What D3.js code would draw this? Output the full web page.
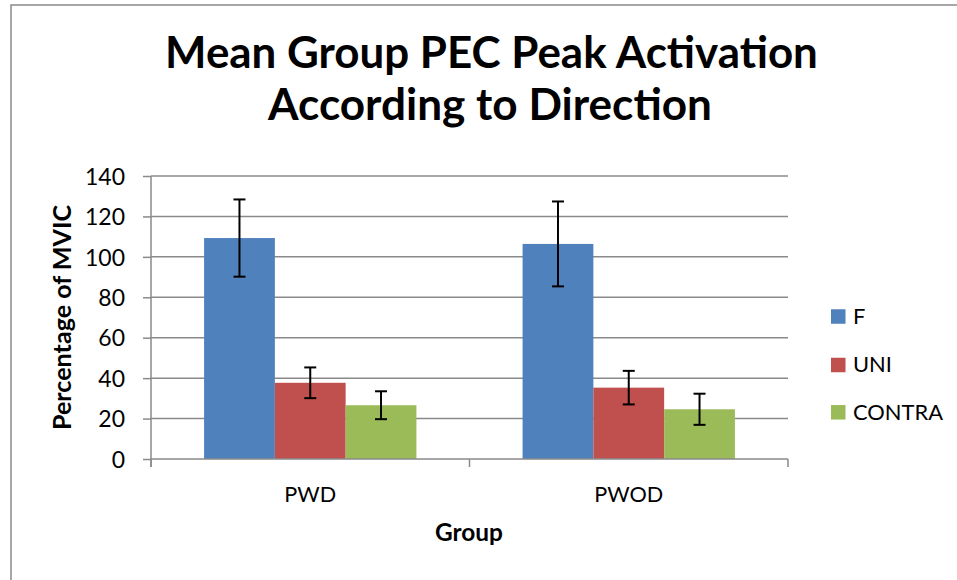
<!DOCTYPE html>
<html>
<head>
<meta charset="utf-8">
<script src="https://cdn.jsdelivr.net/npm/d3@7"></script>
<style>
  html, body { margin: 0; padding: 0; background: #fff; }
  svg { display: block; }
  text { font-family: Lato, "Open Sans", sans-serif; fill: #000; }
</style>
</head>
<body>
<svg id="chart" width="957" height="580"></svg>
<script>
// Chart data
const groups = ["PWD", "PWOD"];
const seriesNames = ["F", "UNI", "CONTRA"];
const seriesColors = ["#4F81BD", "#C0504D", "#9BBB59"];
const meanF = [109.3, 106.4];
const meanUNI = [37.7, 35.3];
const meanCONTRA = [26.6, 24.6];
const errF = [19.1, 21.0];
const errUNI = [7.6, 8.3];
const errCONTRA = [6.9, 7.7];
const yTicks = [0, 20, 40, 60, 80, 100, 120, 140];
const titleLines = ["Mean Group PEC Peak Activation", "According to Direction"];
const yTitle = "Percentage of MVIC";
const xTitle = "Group";

const means = [meanF, meanUNI, meanCONTRA];
const errs = [errF, errUNI, errCONTRA];
const rows = [];
groups.forEach((g, gi) => {
  seriesNames.forEach((s, si) => {
    rows.push({ group: g, series: s, si, value: means[si][gi], err: errs[si][gi] });
  });
});

const svg = d3.select("#chart");
const W = 957, H = 580;
const plot = { left: 151, right: 788, top: 176, bottom: 459 };
const gridColor = "#8a8a8a";

svg.append("rect").attr("width", W).attr("height", H).attr("fill", "#fff");

// outer chart frame (only left and top edges fall inside the view)
svg.append("rect")
  .attr("x", 11).attr("y", 5).attr("width", W + 20).attr("height", H + 20)
  .attr("fill", "none").attr("stroke", gridColor).attr("stroke-width", 1.5);

// scale a text's font size so that its rendered width equals a target width
function fitWidth(sel, target, base) {
  sel.style("font-size", base + "px");
  const w = sel.node().getComputedTextLength();
  const size = base * target / w;
  sel.style("font-size", size + "px");
  return size;
}

const x0 = d3.scaleBand().domain(groups).range([plot.left, plot.right]).padding(0);
const x1 = d3.scaleBand().domain(seriesNames).range([0, x0.bandwidth()])
  .paddingInner(0).paddingOuter(0.75);
const y = d3.scaleLinear().domain([0, 140]).range([plot.bottom, plot.top]);

// horizontal gridlines
svg.append("g").selectAll("line").data(yTicks.filter(d => d > 0)).join("line")
  .attr("x1", plot.left).attr("x2", plot.right)
  .attr("y1", d => y(d)).attr("y2", d => y(d))
  .attr("stroke", gridColor).attr("stroke-width", 1.5);

// bars
svg.append("g").selectAll("rect").data(rows).join("rect")
  .attr("x", d => x0(d.group) + x1(d.series))
  .attr("y", d => y(d.value))
  .attr("width", x1.bandwidth())
  .attr("height", d => y(0) - y(d.value))
  .attr("fill", d => seriesColors[d.si]);

// error bars
const cap = 6;
const eb = svg.append("g").attr("stroke", "#000").attr("stroke-width", 2);
rows.forEach(d => {
  const cx = x0(d.group) + x1(d.series) + x1.bandwidth() / 2;
  const yt = y(d.value + d.err), yb = y(d.value - d.err);
  eb.append("line").attr("x1", cx).attr("x2", cx).attr("y1", yt).attr("y2", yb);
  eb.append("line").attr("x1", cx - cap).attr("x2", cx + cap).attr("y1", yt).attr("y2", yt);
  eb.append("line").attr("x1", cx - cap).attr("x2", cx + cap).attr("y1", yb).attr("y2", yb);
});

// y axis
const yAxis = svg.append("g").attr("transform", `translate(${plot.left},0)`)
  .call(d3.axisLeft(y).tickValues(yTicks).tickSize(8).tickSizeOuter(0).tickPadding(18));
yAxis.select(".domain").remove();
yAxis.selectAll(".tick line").attr("stroke", gridColor).attr("stroke-width", 1.5);
yAxis.append("line").attr("x1", 0).attr("x2", 0).attr("y1", plot.top).attr("y2", plot.bottom + 8)
  .attr("stroke", gridColor).attr("stroke-width", 1.5);
const tickTexts = yAxis.selectAll(".tick text").attr("fill", "#000").style("font-family", "Lato");
const tickSize = fitWidth(yAxis.selectAll(".tick text").filter(d => d === 140), 40, 20);
tickTexts.style("font-size", tickSize + "px").attr("x", -26).attr("dy", "0.36em");

// x axis
const xAxis = svg.append("g").attr("transform", `translate(0,${plot.bottom})`);
xAxis.append("line").attr("x1", plot.left).attr("x2", plot.right).attr("y1", 0).attr("y2", 0)
  .attr("stroke", gridColor).attr("stroke-width", 1.5);
const boundaries = groups.map(g => x0(g)).concat([plot.right]);
xAxis.selectAll("line.tk").data(boundaries).join("line").attr("class", "tk")
  .attr("x1", d => d).attr("x2", d => d).attr("y1", 0).attr("y2", 8)
  .attr("stroke", gridColor).attr("stroke-width", 1.5);
const catLabels = xAxis.selectAll("text.cat").data(groups).join("text").attr("class", "cat")
  .attr("x", d => x0(d) + x0.bandwidth() / 2).attr("y", 43)
  .attr("text-anchor", "middle").text(d => d);
const catSize = fitWidth(catLabels.filter(d => d === "PWOD"), 69, 20);
catLabels.style("font-size", catSize + "px");

// titles
const t1 = svg.append("text").attr("x", 491.5).attr("y", 68).attr("text-anchor", "middle")
  .style("font-weight", "bold").text(titleLines[0]);
fitWidth(t1, 653, 40);
const t2 = svg.append("text").attr("x", 490).attr("y", 120).attr("text-anchor", "middle")
  .style("font-weight", "bold").text(titleLines[1]);
fitWidth(t2, 444, 40);

const xt = svg.append("text").attr("x", 469).attr("y", 541).attr("text-anchor", "middle")
  .style("font-weight", "bold").text(xTitle);
fitWidth(xt, 68, 20);

const yt = svg.append("text").attr("transform", "translate(71,317.5) rotate(-90)")
  .attr("text-anchor", "middle").style("font-weight", "bold").text(yTitle);
fitWidth(yt, 225, 20);

// legend
const legendY = [316.5, 365, 412.3];
const lg = svg.append("g");
const items = lg.selectAll("g").data(seriesNames).join("g")
  .attr("transform", (d, i) => `translate(831,${legendY[i]})`);
items.append("rect").attr("x", 0).attr("y", -7.25).attr("width", 14.5).attr("height", 14.5)
  .attr("fill", (d, i) => seriesColors[i]);
const legTexts = items.append("text").attr("x", 22).attr("y", 7.3).text(d => d);
const legSize = fitWidth(legTexts.filter(d => d === "CONTRA"), 90, 20);
legTexts.style("font-size", legSize + "px");
</script>
</body>
</html>
